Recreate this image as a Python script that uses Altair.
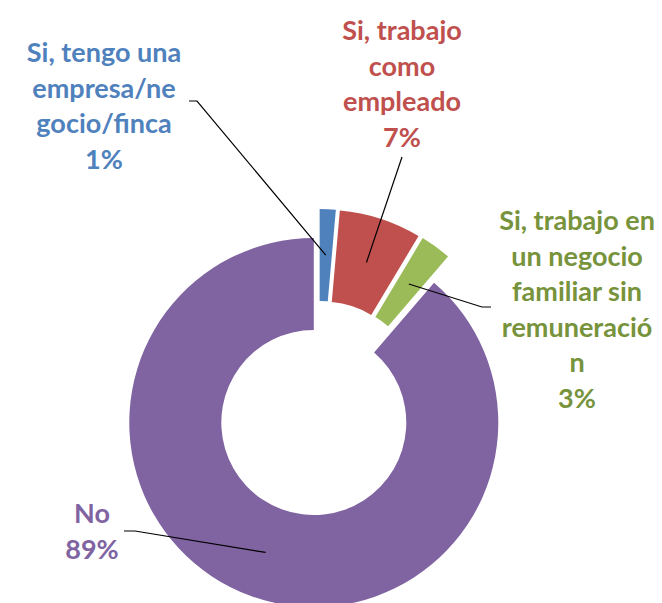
import math
import altair as alt
import pandas as pd

# ---- data ----
categories = [
    "Si, tengo una empresa/negocio/finca",
    "Si, trabajo como empleado",
    "Si, trabajo en un negocio familiar sin remuneración",
    "No",
]
label_lines = [
    "Si, tengo una\nempresa/ne\ngocio/finca",
    "Si, trabajo\ncomo\nempleado",
    "Si, trabajo en\nun negocio\nfamiliar sin\nremuneració\nn",
    "No",
]
shares = [1.4, 7.2, 2.7, 88.7]
pct_labels = ["1%", "7%", "3%", "89%"]
slice_colors = ["#4F81BD", "#C0504D", "#9BBB59", "#8064A2"]
text_colors = ["#4F81BD", "#C0504D", "#77933C", "#8064A2"]

# ---- layout ----
W, H = 646, 595
CX, CY = 311, 400.5
R_IN, R_OUT = 92.5, 184.5
EXPLODE = 15
FONT = "Lato"
label_pos = [(96, 54), (394, 32), (569, 222), (84, 515)]
leader_start = [
    [(181, 93), (189, 93)],
    [(394, 149)],
    [(483, 299), (474, 299)],
    [(116, 523), (127, 523)],
]

total = sum(shares)
rows, text_rows, line_rows = [], [], []
cum = 0.0
for i, (cat, v) in enumerate(zip(categories, shares)):
    t0 = cum / total * 2 * math.pi
    cum += v
    t1 = cum / total * 2 * math.pi
    mid = (t0 + t1) / 2
    ax = CX + EXPLODE * math.sin(mid)
    ay = CY - EXPLODE * math.cos(mid)
    rows.append(dict(cat=cat, t0=t0, t1=t1, ax=ax, ay=ay, fill=slice_colors[i]))
    lx, ly = label_pos[i]
    text_rows.append(dict(cat=cat, x=lx, y=ly, label=label_lines[i] + "\n" + pct_labels[i],
                          tc=text_colors[i]))
    rm = (R_IN + R_OUT) / 2
    ex = ax + rm * math.sin(mid)
    ey = ay - rm * math.cos(mid)
    pts = leader_start[i] + [(ex, ey)]
    for j, (px, py) in enumerate(pts):
        line_rows.append(dict(cat=cat, seq=j, x=px, y=py))

df = pd.DataFrame(rows)
tdf = pd.DataFrame(text_rows)
ldf = pd.DataFrame(line_rows)

arcs = alt.Chart(df).mark_arc(innerRadius=R_IN, outerRadius=R_OUT).encode(
    x=alt.X("ax:Q", scale=None, axis=None),
    y=alt.Y("ay:Q", scale=None, axis=None),
    theta=alt.Theta("t0:Q", scale=None),
    theta2="t1:Q",
    color=alt.Color("fill:N", scale=None),
)

leaders = alt.Chart(ldf).mark_line(color="black", strokeWidth=1.2).encode(
    x=alt.X("x:Q", scale=None, axis=None),
    y=alt.Y("y:Q", scale=None, axis=None),
    detail="cat:N",
    order="seq:Q",
)

labels = alt.Chart(tdf).mark_text(
    align="center", baseline="alphabetic", font=FONT, fontSize=27,
    fontWeight="bold", lineBreak="\n", lineHeight=35.5,
).encode(
    x=alt.X("x:Q", scale=None, axis=None),
    y=alt.Y("y:Q", scale=None, axis=None),
    text="label:N",
    color=alt.Color("tc:N", scale=None),
)

chart = alt.layer(arcs, leaders, labels).properties(
    width=W, height=H, autosize=alt.AutoSizeParams(type="none"), padding=0,
    background="white",
).configure_view(stroke=None)

chart.save("out.html", embed_options={"renderer": "svg", "actions": False})
